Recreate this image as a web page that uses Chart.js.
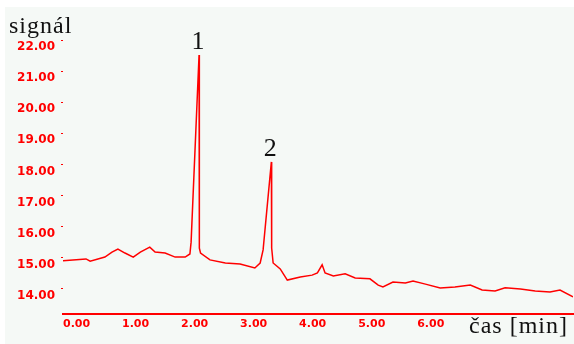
<!DOCTYPE html>
<html>
<head>
<meta charset="utf-8">
<script src="https://cdn.jsdelivr.net/npm/chart.js@4"></script>
<style>
  html, body { margin: 0; padding: 0; background: #fff; }
  #wrap { width: 574px; height: 344px; position: relative; }
</style>
</head>
<body>
<div id="wrap"><canvas id="chrom"></canvas></div>
<script>
// čas [min] a signál
const times = [0.00, 0.39, 0.46, 0.71, 0.83, 0.93, 1.05, 1.19, 1.31, 1.47, 1.56, 1.73, 1.90, 2.07, 2.15,
  2.17, 2.305, 2.31, 2.33, 2.49, 2.75, 3.00, 3.25, 3.34, 3.39, 3.53, 3.535, 3.56, 3.68, 3.80,
  4.02, 4.22, 4.31, 4.39, 4.44, 4.58, 4.78, 4.95, 5.20, 5.34, 5.42, 5.59, 5.80, 5.93, 6.14,
  6.39, 6.64, 6.90, 7.10, 7.32, 7.49, 7.75, 8.00, 8.25, 8.42, 8.64];
const signal = [14.90, 14.96, 14.89, 15.02, 15.18, 15.28, 15.15, 15.02, 15.18, 15.34, 15.18, 15.15, 15.02, 15.02, 15.12,
  15.50, 21.52, 15.31, 15.15, 14.93, 14.83, 14.80, 14.67, 14.83, 15.25, 18.08, 15.31, 14.83, 14.64, 14.28,
  14.38, 14.44, 14.51, 14.77, 14.51, 14.41, 14.48, 14.35, 14.32, 14.12, 14.06, 14.22, 14.19, 14.25, 14.15,
  14.03, 14.06, 14.12, 13.96, 13.93, 14.03, 13.99, 13.93, 13.90, 13.96, 13.74];

const xTicks = [0, 1, 2, 3, 4, 5, 6];
const yTicks = [14, 15, 16, 17, 18, 19, 20, 21, 22];

const peakLabels = ['1', '2'];
const peakTimes = [2.305, 3.53];

const RED = '#ff0000';

const points = times.map((t, i) => ({ x: t, y: signal[i] }));

// pozadí, popisky os a čísla píků
const decor = {
  id: 'decor',
  beforeDraw(chart) {
    const ctx = chart.ctx;
    ctx.save();
    ctx.fillStyle = '#f5f9f6';
    ctx.fillRect(5, 7, chart.width - 5, chart.height - 7);
    ctx.restore();
  },
  afterDraw(chart) {
    const ctx = chart.ctx;
    const xs = chart.scales.x, ys = chart.scales.y;
    ctx.save();
    ctx.fillStyle = '#111';
    ctx.font = '24px "Liberation Serif"';
    ctx.textBaseline = 'alphabetic';
    ctx.textAlign = 'left';
    ctx.letterSpacing = '1px';
    ctx.fillText('signál', 9, 33);
    ctx.fillText('čas [min]', 469, 333);

    ctx.font = '26px "Liberation Serif"';
    ctx.letterSpacing = '0px';
    ctx.textAlign = 'center';
    peakLabels.forEach((lab, i) => {
      const idx = times.indexOf(peakTimes[i]);
      const px = xs.getPixelForValue(times[idx]);
      const py = ys.getPixelForValue(signal[idx]);
      ctx.fillText(lab, px - 1, py - 6);
    });
    ctx.restore();
  }
};

new Chart(document.getElementById('chrom'), {
  type: 'line',
  data: {
    datasets: [{
      data: points,
      borderColor: RED,
      borderWidth: 1.5,
      pointRadius: 0,
      tension: 0,
      fill: false
    }]
  },
  options: {
    responsive: true,
    maintainAspectRatio: false,
    animation: false,
    layout: { padding: { top: 40, right: 1, left: 0, bottom: 0 } },
    plugins: { legend: { display: false }, tooltip: { enabled: false } },
    scales: {
      x: {
        type: 'linear',
        min: 0,
        max: 8.64,
        afterBuildTicks: s => { s.ticks = xTicks.map(v => ({ value: v })); },
        afterFit: s => { s.height = 30; },
        grid: { display: true, drawOnChartArea: false, drawTicks: false },
        border: { display: true, color: RED, width: 2 },
        ticks: {
          align: 'start',
          padding: 4,
          color: RED,
          font: { family: 'DejaVu Sans', size: 11, weight: 'bold' },
          callback: v => v.toFixed(2)
        }
      },
      y: {
        type: 'linear',
        min: 13.19,
        max: 22,
        afterBuildTicks: s => { s.ticks = yTicks.map(v => ({ value: v })); },
        afterFit: s => { s.width = 63; },
        grid: { display: true, drawOnChartArea: false, drawTicks: true, tickLength: 2, tickColor: RED, tickWidth: 1 },
        border: { display: false },
        ticks: {
          padding: 6,
          labelOffset: 7,
          color: RED,
          font: { family: 'DejaVu Sans', size: 12, weight: 'bold' },
          callback: v => v.toFixed(2)
        }
      }
    }
  },
  plugins: [decor]
});
</script>
</body>
</html>
